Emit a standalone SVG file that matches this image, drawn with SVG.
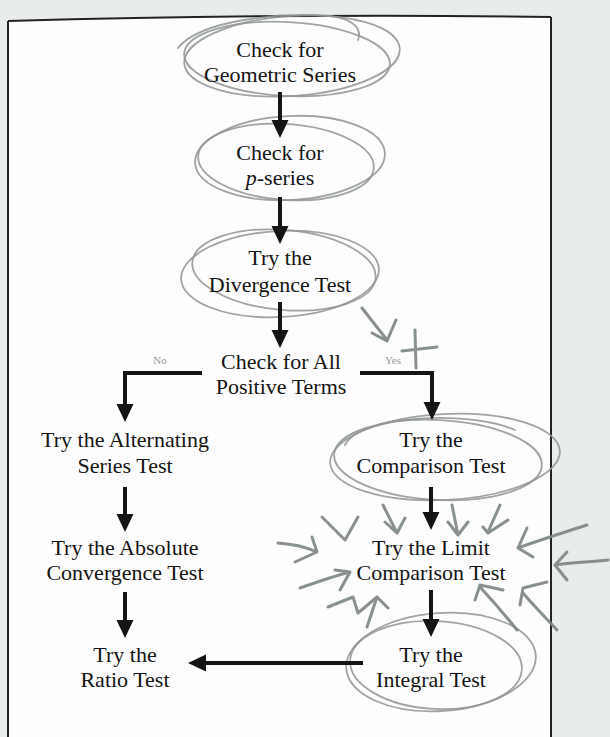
<svg xmlns="http://www.w3.org/2000/svg" width="610" height="737" viewBox="0 0 610 737">
<style>
.t{font-family:"Liberation Serif","Times New Roman",serif;font-size:22px;fill:#141414;text-anchor:middle}
.lab{font-family:"Liberation Serif",serif;font-size:11px;fill:#9a9a9a;text-anchor:middle}
.c{stroke:#141414;stroke-width:4;fill:none;marker-end:url(#ah)}
.p{fill:none;stroke:#8f9494;stroke-width:1.8;stroke-linecap:round;stroke-linejoin:round;opacity:.85}
.pa{fill:none;stroke:#7c8484;stroke-width:3;stroke-linecap:round;stroke-linejoin:round;opacity:.9}
</style>
<defs>
<marker id="ah" markerUnits="userSpaceOnUse" markerWidth="20" markerHeight="18" refX="8" refY="8.5" orient="auto">
<path d="M0,0 L18,8.5 L0,17 Z" fill="#141414"/>
</marker>
</defs>
<rect width="610" height="737" fill="#e9ecec"/>
<path d="M8,21 Q300,13 551,17 L551,737 L8,737 Z" fill="#fdfdfd"/>
<g id="frame" fill="none" stroke="#222" stroke-width="2">
<path d="M8,21 Q300,13 551,17"/>
<path d="M8,21 L8,737"/>
<path d="M551,17 L551,737"/>
</g>
<g id="scribbles">
<ellipse class="p" cx="292" cy="56" rx="108" ry="40" transform="rotate(-4 292 56)"/>
<ellipse class="p" cx="287" cy="59" rx="103" ry="37" transform="rotate(3 287 59)"/>
<path class="p" d="M178,48 C200,20 280,12 330,16 C355,19 362,30 358,40"/>
<ellipse class="p" cx="290" cy="158" rx="95" ry="42" transform="rotate(-3 290 158)"/>
<ellipse class="p" cx="286" cy="162" rx="88" ry="38" transform="rotate(4 286 162)"/>
<ellipse class="p" cx="280" cy="274" rx="99" ry="43" transform="rotate(-3 280 274)"/>
<ellipse class="p" cx="284" cy="270" rx="92" ry="40" transform="rotate(5 284 270)"/>
<ellipse class="p" cx="445" cy="457" rx="115" ry="43" transform="rotate(-3 445 457)"/>
<ellipse class="p" cx="438" cy="460" rx="104" ry="40" transform="rotate(3 438 460)"/>
<path class="p" d="M345,445 C360,415 470,410 515,430"/>
<ellipse class="p" cx="441" cy="662" rx="95" ry="49" transform="rotate(-4 441 662)"/>
<ellipse class="p" cx="436" cy="665" rx="86" ry="44" transform="rotate(3 436 665)"/>
<path class="pa" d="M362,308 L387,340 M372,333 L387,341 L396,320"/>
<path class="pa" d="M415,330 L416,368 M402,351 L437,347" stroke="#5a6262"/>
<path class="pa" d="M278,543 C292,544 306,547 317,552 M312,537 L317,552 L295,562"/>
<path class="pa" d="M322,517 L345,540 L358,517"/>
<path class="pa" d="M383,505 L397,533 M385,522 L397,533 L405,518"/>
<path class="pa" d="M452,505 L458,535 M448,522 L458,535 L468,522"/>
<path class="pa" d="M500,505 L488,532 M483,527 L488,533 L508,520"/>
<path class="pa" d="M587,525 C565,532 540,540 518,548 M527,528 L518,548 L533,557"/>
<path class="pa" d="M608,560 C588,562 570,563 555,565 M567,552 L555,565 L567,580"/>
<path class="pa" d="M300,588 C317,582 334,576 350,572 M335,570 L350,572 L340,590"/>
<path class="pa" d="M328,607 L353,597 L358,613 L377,597 L388,608 M367,627 L377,597"/>
<path class="pa" d="M517,630 C505,615 492,600 480,587 M475,600 L480,585 L503,590"/>
<path class="pa" d="M557,630 C545,617 533,605 523,593 M520,605 L523,588 L547,582"/>
</g>
<g id="connectors">
<line class="c" x1="280" y1="92" x2="280" y2="128"/>
<line class="c" x1="280" y1="197" x2="280" y2="234"/>
<line class="c" x1="280" y1="302" x2="280" y2="338"/>
<polyline class="c" points="202,373 125,373 125,412"/>
<polyline class="c" points="360,373 432,373 432,410"/>
<line class="c" x1="125" y1="487" x2="125" y2="522"/>
<line class="c" x1="431" y1="487" x2="431" y2="520"/>
<line class="c" x1="125" y1="592" x2="125" y2="628"/>
<line class="c" x1="431" y1="590" x2="431" y2="627"/>
<line class="c" x1="363" y1="663" x2="198" y2="663"/>
<text class="lab" x="160" y="364">No</text>
<text class="lab" x="393" y="364">Yes</text>
</g>
<g id="geometric"><text class="t" x="280" y="57">Check for</text><text class="t" x="280" y="82">Geometric Series</text></g>
<g id="pseries"><text class="t" x="280" y="160">Check for</text><text class="t" x="280" y="185"><tspan font-style="italic">p</tspan>-series</text></g>
<g id="divergence"><text class="t" x="280" y="265">Try the</text><text class="t" x="280" y="292">Divergence Test</text></g>
<g id="positive"><text class="t" x="281" y="369">Check for All</text><text class="t" x="281" y="394">Positive Terms</text></g>
<g id="alternating"><text class="t" x="125" y="447">Try the Alternating</text><text class="t" x="125" y="473">Series Test</text></g>
<g id="comparison"><text class="t" x="431" y="447">Try the</text><text class="t" x="431" y="473">Comparison Test</text></g>
<g id="absolute"><text class="t" x="125" y="555">Try the Absolute</text><text class="t" x="125" y="580">Convergence Test</text></g>
<g id="limit"><text class="t" x="431" y="555">Try the Limit</text><text class="t" x="431" y="580">Comparison Test</text></g>
<g id="ratio"><text class="t" x="125" y="662">Try the</text><text class="t" x="125" y="687">Ratio Test</text></g>
<g id="integral"><text class="t" x="431" y="662">Try the</text><text class="t" x="431" y="687">Integral Test</text></g>
</svg>
